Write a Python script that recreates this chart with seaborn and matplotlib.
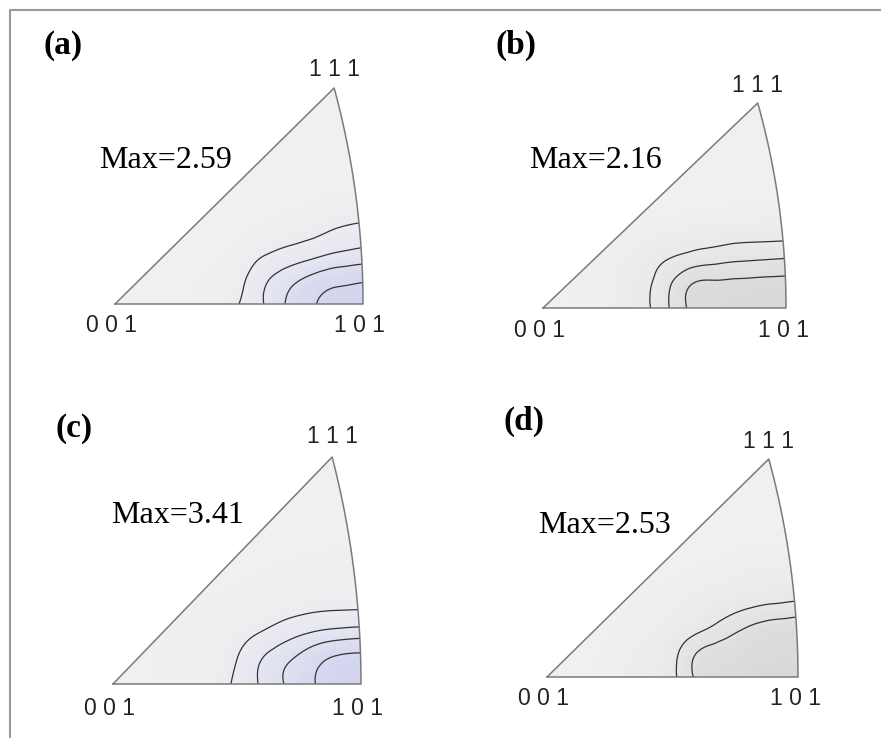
import numpy as np
import matplotlib
matplotlib.use("Agg")
import matplotlib.pyplot as plt
import matplotlib.tri as mtri
from matplotlib.colors import LinearSegmentedColormap, Normalize
from matplotlib.patches import Polygon
import seaborn as sns

# inverse pole figure data
# grid: distance from the 101 corner along the base (du) and height (v), both in base widths
grid_du = [0.0, 0.1, 0.2, 0.3, 0.4, 0.5, 0.6, 0.8, 1.0]
grid_v = [0.0, 0.1, 0.2, 0.3, 0.4, 0.6, 1.0]

dens_a = [
    [2.59, 2.52, 2.37, 2.06, 1.60, 1.20, 1.00, 0.92, 0.90],
    [2.34, 2.28, 2.12, 1.85, 1.51, 1.10, 0.98, 0.92, 0.90],
    [1.76, 1.66, 1.49, 1.34, 1.18, 1.02, 0.95, 0.91, 0.90],
    [1.29, 1.22, 1.12, 1.05, 0.99, 0.95, 0.92, 0.90, 0.90],
    [1.05, 1.02, 0.98, 0.95, 0.93, 0.92, 0.90, 0.90, 0.90],
    [0.90, 0.90, 0.90, 0.90, 0.90, 0.90, 0.90, 0.90, 0.90],
    [0.90, 0.90, 0.90, 0.90, 0.90, 0.90, 0.90, 0.90, 0.90],
]
dens_b = [
    [2.16, 2.14, 2.10, 2.03, 1.93, 1.51, 1.20, 0.98, 0.90],
    [2.00, 1.99, 1.97, 1.95, 1.86, 1.48, 1.20, 0.98, 0.90],
    [1.62, 1.59, 1.56, 1.50, 1.42, 1.28, 1.12, 0.95, 0.90],
    [1.22, 1.21, 1.20, 1.16, 1.12, 1.06, 1.00, 0.92, 0.90],
    [1.00, 0.99, 0.98, 0.96, 0.94, 0.92, 0.91, 0.90, 0.90],
    [0.90, 0.90, 0.90, 0.90, 0.90, 0.90, 0.90, 0.90, 0.90],
    [0.90, 0.90, 0.90, 0.90, 0.90, 0.90, 0.90, 0.90, 0.90],
]
dens_c = [
    [3.41, 3.25, 2.94, 2.54, 2.09, 1.52, 1.15, 0.95, 0.90],
    [3.15, 3.08, 2.79, 2.42, 2.00, 1.40, 1.10, 0.95, 0.90],
    [2.33, 2.25, 2.08, 1.80, 1.47, 1.20, 1.05, 0.93, 0.90],
    [1.40, 1.38, 1.33, 1.22, 1.10, 1.02, 0.97, 0.92, 0.90],
    [1.10, 1.08, 1.05, 1.00, 0.97, 0.94, 0.92, 0.90, 0.90],
    [0.90, 0.90, 0.90, 0.90, 0.90, 0.90, 0.90, 0.90, 0.90],
    [0.90, 0.90, 0.90, 0.90, 0.90, 0.90, 0.90, 0.90, 0.90],
]
dens_d = [
    [2.53, 2.48, 2.38, 2.24, 2.08, 1.50, 1.20, 0.97, 0.90],
    [2.40, 2.36, 2.28, 2.16, 2.00, 1.45, 1.15, 0.95, 0.90],
    [2.20, 2.15, 2.00, 1.75, 1.45, 1.20, 1.05, 0.93, 0.90],
    [1.62, 1.55, 1.45, 1.30, 1.15, 1.05, 0.98, 0.92, 0.90],
    [1.20, 1.18, 1.12, 1.05, 1.00, 0.95, 0.93, 0.90, 0.90],
    [0.90, 0.90, 0.90, 0.90, 0.90, 0.90, 0.90, 0.90, 0.90],
    [0.90, 0.90, 0.90, 0.90, 0.90, 0.90, 0.90, 0.90, 0.90],
]

levels_a = [1.2, 1.6, 2.0, 2.4]
levels_b = [1.3, 1.6, 1.9]
levels_c = [1.4, 2.0, 2.5, 3.0]
levels_d = [1.6, 2.0]

max_values = [2.59, 2.16, 3.41, 2.53]
panel_tags = ["(a)", "(b)", "(c)", "(d)"]
pole_labels = ["0 0 1", "1 0 1", "1 1 1"]

# page layout in pixels: 001 corner, base width, height of 111
panels = [
    dict(ox=115, oy=304, w=248, h=216, tag=(63, 54), mx=(166, 168), top=76, bot=332,
         dens=dens_a, lev=levels_a, pal=["#f0f0f0", "#e4e5f1", "#d2d3ee"]),
    dict(ox=543, oy=308, w=243, h=205, tag=(516, 54), mx=(596, 168), top=92, bot=337,
         dens=dens_b, lev=levels_b, pal=["#f0f0f0", "#e6e6e6", "#d8d8d8"]),
    dict(ox=113, oy=684, w=248, h=227, tag=(74, 437), mx=(178, 523), top=443, bot=715,
         dens=dens_c, lev=levels_c, pal=["#f0f0f0", "#e4e5f1", "#d2d3ee"]),
    dict(ox=547, oy=677, w=251, h=218, tag=(524, 430), mx=(605, 533), top=448, bot=705,
         dens=dens_d, lev=levels_d, pal=["#f0f0f0", "#e6e6e6", "#d8d8d8"]),
]


def stereo(vec):
    vec = np.asarray(vec, float)
    vec = vec / np.linalg.norm(vec, axis=-1, keepdims=True)
    return vec[..., 0] / (1 + vec[..., 2]), vec[..., 1] / (1 + vec[..., 2])


# standard triangle 001 - 101 - 111 (arc is the great circle h = l)
t = np.linspace(0, 1, 60)
arc_x, arc_y = stereo(np.column_stack([np.ones_like(t), t, np.ones_like(t)]))
x101, _ = stereo([1, 0, 1])
_, y111 = stereo([1, 1, 1])
tri_x = np.concatenate([[0.0], arc_x, [0.0]])
tri_y = np.concatenate([[0.0], arc_y, [0.0]])

sns.set_style("white")
fig = plt.figure(figsize=(8.81, 7.38), dpi=100)
ax = fig.add_axes([0, 0, 1, 1])
ax.set_xlim(0, 881)
ax.set_ylim(738, 0)
ax.axis("off")

# frame lines of the original page
ax.plot([10, 10, 881], [738, 10, 10], color="#9a9a9a", lw=1.5)

serif = ["Liberation Serif", "DejaVu Serif"]
sans = ["Liberation Sans", "DejaVu Sans"]

for i, p in enumerate(panels):
    ox, oy, w, h = p["ox"], p["oy"], p["w"], p["h"]
    px = ox + tri_x / x101 * w
    py = oy - tri_y / y111 * h
    clip = Polygon(np.column_stack([px, py]), closed=True, facecolor="none", edgecolor="none")
    ax.add_patch(clip)

    du, vv = np.meshgrid(grid_du, grid_v)
    gx = ox + w - du * w
    gy = oy - vv * w
    z = np.array(p["dens"], float)
    tri = mtri.Triangulation(gx.ravel(), gy.ravel())
    interp = mtri.CubicTriInterpolator(tri, z.ravel())
    tri_f, z_f = mtri.UniformTriRefiner(tri).refine_field(z.ravel(), triinterpolator=interp, subdiv=4)

    cmap = LinearSegmentedColormap.from_list("ipf%d" % i, p["pal"])
    peak = max_values[i]
    cf = ax.tricontourf(tri_f, z_f, levels=np.linspace(0.5, peak + 0.5, 40), cmap=cmap,
                        norm=Normalize(0.9, peak), extend="both")
    cf.set_clip_path(clip)
    cl = ax.tricontour(tri_f, z_f, levels=p["lev"], colors="#333333", linewidths=0.9)
    cl.set_clip_path(clip)

    sns.lineplot(x=px, y=py, sort=False, estimator=None, color="#7a7a7a", lw=1.1, ax=ax)

    ax.text(p["tag"][0], p["tag"][1], panel_tags[i], ha="center", va="baseline",
            fontsize=24, fontweight="bold", family=serif, color="black")
    ax.text(p["mx"][0], p["mx"][1], "Max=%.2f" % max_values[i], ha="center", va="baseline",
            fontsize=23, family=serif, color="black")
    for lx, ly, lab in [(ox - 3, p["bot"], pole_labels[0]),
                        (ox + w - 3, p["bot"], pole_labels[1]),
                        (px[len(t)], p["top"], pole_labels[2])]:
        ax.text(lx, ly, lab, ha="center", va="baseline", fontsize=16.5, family=sans,
                color="#222222")

fig.savefig("out.png", dpi=100)
